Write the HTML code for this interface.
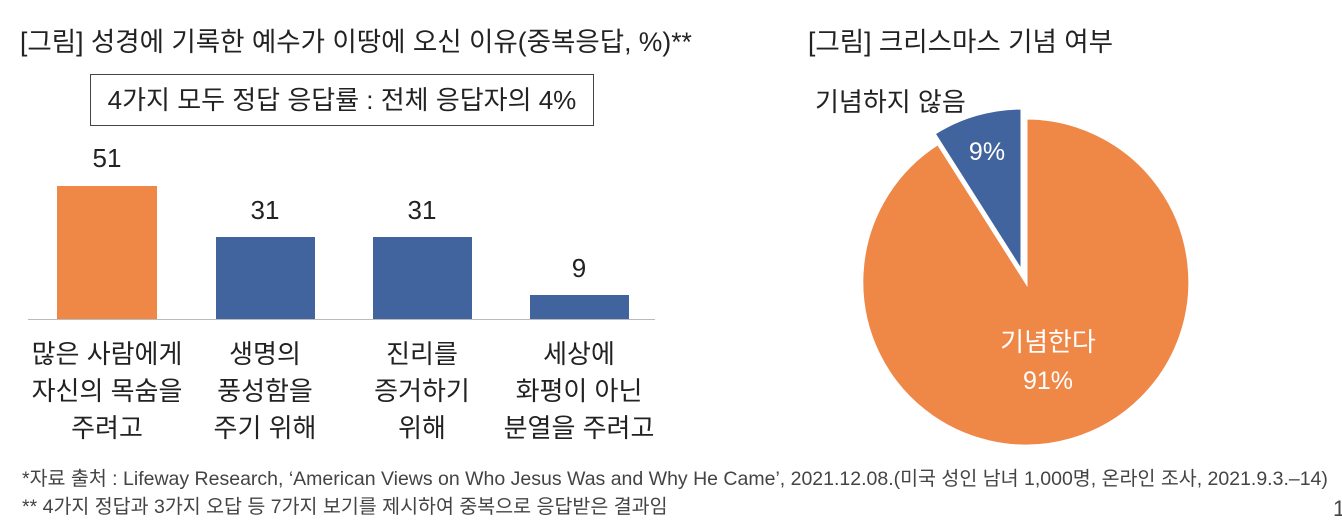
<!DOCTYPE html>
<html><head><meta charset="utf-8"><style>
body{margin:0;width:1342px;height:530px;background:#fff;font-family:"Liberation Sans","Noto Sans CJK KR",sans-serif;color:#222;position:relative;overflow:hidden}
.a{position:absolute;white-space:nowrap}
.c{position:absolute;text-align:center;width:180px;font-size:26px;line-height:37px}
</style></head><body>
<div class="a" style="left:20px;top:20px;font-size:26.5px">[그림] 성경에 기록한 예수가 이땅에 오신 이유(중복응답, %)**</div>
<div class="a" style="left:90px;top:74px;width:504px;height:52px;border:1px solid #444;box-sizing:border-box;font-size:26px;line-height:50px;text-align:center">4가지 모두 정답 응답률 : 전체 응답자의 4%</div>
<div class="a" style="left:57px;top:186px;width:100px;height:133px;background:#EF8747"></div>
<div class="a" style="left:216px;top:237px;width:99px;height:82px;background:#41649E"></div>
<div class="a" style="left:373px;top:237px;width:99px;height:82px;background:#41649E"></div>
<div class="a" style="left:530px;top:295px;width:99px;height:24px;background:#41649E"></div>
<div class="a" style="left:28px;top:319px;width:627px;height:1px;background:#bbb"></div>
<div class="c" style="left:17px;top:140px">51</div>
<div class="c" style="left:175px;top:192px">31</div>
<div class="c" style="left:332px;top:192px">31</div>
<div class="c" style="left:489px;top:250px">9</div>
<div class="c" style="left:17px;top:336px">많은 사람에게<br>자신의 목숨을<br>주려고</div>
<div class="c" style="left:175px;top:336px">생명의<br>풍성함을<br>주기 위해</div>
<div class="c" style="left:332px;top:336px">진리를<br>증거하기<br>위해</div>
<div class="c" style="left:489px;top:336px">세상에<br>화평이 아닌<br>분열을 주려고</div>
<div class="a" style="left:808px;top:20px;font-size:26.5px">[그림] 크리스마스 기념 여부</div>
<div class="a" style="left:815px;top:82px;font-size:26px">기념하지 않음</div>
<svg class="a" style="left:0;top:0" width="1342" height="530">
<path d="M1026,282 L1026,118 A164,164 0 1,1 938,143.5 Z" fill="#EF8747" stroke="#fff" stroke-width="3"/>
<path d="M1022,272 L934,133.5 A164,164 0 0,1 1022,108 Z" fill="#41649E" stroke="#fff" stroke-width="3"/>
<text x="987" y="160" font-size="25" fill="#fff" text-anchor="middle" font-family="Liberation Sans">9%</text>
<text x="1048" y="351" font-size="26" fill="#fff" text-anchor="middle" font-family="Liberation Sans, Noto Sans CJK KR">기념한다</text>
<text x="1048" y="389" font-size="25" fill="#fff" text-anchor="middle" font-family="Liberation Sans">91%</text>
</svg>
<div class="a" style="left:22px;top:462px;font-size:19.5px;color:#444;transform-origin:0 0;transform:scaleX(1.0)">*자료 출처 : Lifeway Research, ‘American Views on Who Jesus Was and Why He Came’, 2021.12.08.(미국 성인 남녀 1,000명, 온라인 조사, 2021.9.3.–14)</div>
<div class="a" style="left:22px;top:490px;font-size:19.5px;color:#444;transform-origin:0 0;transform:scaleX(1.0)">** 4가지 정답과 3가지 오답 등 7가지 보기를 제시하여 중복으로 응답받은 결과임</div>
<div class="a" style="left:1333px;top:496px;font-size:22px;color:#444">1</div>
</body></html>
